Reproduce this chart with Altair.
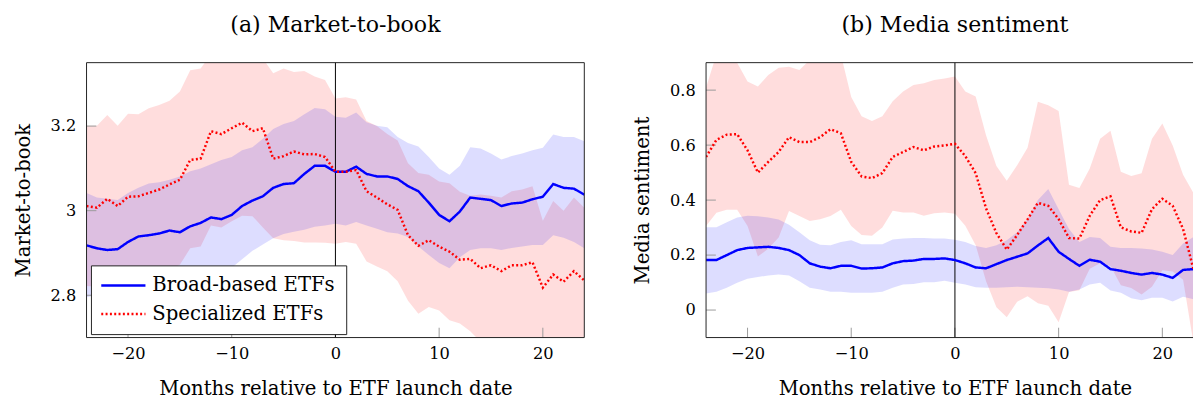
import altair as alt
import pandas as pd

months = list(range(-24, 25))

# Panel (a): Market-to-book
mtb_broad = [2.918, 2.911, 2.907, 2.909, 2.926, 2.939, 2.942, 2.946, 2.953, 2.949, 2.963, 2.971, 2.984,
             2.980, 2.990, 3.011, 3.024, 3.034, 3.054, 3.063, 3.065, 3.087, 3.106, 3.106, 3.092,
             3.092, 3.104, 3.087, 3.081, 3.081, 3.075, 3.058, 3.046, 3.019, 2.990, 2.975, 2.998,
             3.031, 3.028, 3.025, 3.011, 3.017, 3.019, 3.027, 3.033, 3.063, 3.054, 3.052, 3.038]
mtb_spec = [3.011, 3.007, 3.028, 3.011, 3.033, 3.034, 3.042, 3.050, 3.062, 3.073, 3.120, 3.123, 3.188,
            3.181, 3.195, 3.208, 3.188, 3.195, 3.123, 3.129, 3.140, 3.133, 3.134, 3.127, 3.092,
            3.092, 3.096, 3.046, 3.031, 3.015, 3.002, 2.942, 2.917, 2.930, 2.915, 2.903, 2.884,
            2.886, 2.864, 2.871, 2.857, 2.871, 2.871, 2.878, 2.818, 2.849, 2.832, 2.857, 2.835]
mtb_broad_hi = [3.042, 3.031, 3.028, 3.025, 3.042, 3.054, 3.064, 3.067, 3.073, 3.081, 3.093, 3.100, 3.110,
                3.120, 3.127, 3.143, 3.150, 3.170, 3.193, 3.205, 3.212, 3.228, 3.243, 3.240, 3.222,
                3.220, 3.232, 3.209, 3.201, 3.197, 3.174, 3.160, 3.152, 3.127, 3.100, 3.085, 3.106,
                3.150, 3.147, 3.135, 3.121, 3.129, 3.135, 3.143, 3.149, 3.180, 3.174, 3.174, 3.164]
mtb_broad_lo = [2.795, 2.800, 2.800, 2.800, 2.810, 2.815, 2.820, 2.820, 2.830, 2.835, 2.840, 2.850, 2.855,
                2.860, 2.865, 2.885, 2.905, 2.920, 2.935, 2.945, 2.950, 2.955, 2.962, 2.965, 2.969,
                2.965, 2.973, 2.965, 2.957, 2.949, 2.946, 2.938, 2.915, 2.895, 2.876, 2.864, 2.890,
                2.907, 2.911, 2.911, 2.907, 2.912, 2.915, 2.919, 2.919, 2.942, 2.936, 2.926, 2.911]
mtb_spec_hi = [3.201, 3.201, 3.226, 3.201, 3.229, 3.228, 3.242, 3.250, 3.260, 3.282, 3.332, 3.336, 3.370,
               3.380, 3.380, 3.380, 3.370, 3.360, 3.325, 3.336, 3.328, 3.330, 3.317, 3.309, 3.265,
               3.268, 3.263, 3.212, 3.200, 3.181, 3.166, 3.112, 3.089, 3.085, 3.069, 3.065, 3.045,
               3.035, 3.038, 3.035, 3.031, 3.046, 3.050, 3.058, 2.976, 3.023, 3.000, 3.031, 3.007]
mtb_spec_lo = [2.822, 2.820, 2.820, 2.825, 2.830, 2.835, 2.840, 2.850, 2.860, 2.872, 2.911, 2.915, 2.965,
               2.960, 2.975, 2.988, 2.987, 2.960, 2.935, 2.930, 2.928, 2.925, 2.925, 2.924, 2.922,
               2.926, 2.922, 2.880, 2.868, 2.857, 2.833, 2.787, 2.756, 2.772, 2.764, 2.741, 2.733,
               2.715, 2.690, 2.680, 2.680, 2.680, 2.680, 2.680, 2.680, 2.680, 2.680, 2.680, 2.680]

# Panel (b): Media sentiment
sen_broad = [0.182, 0.182, 0.200, 0.218, 0.226, 0.228, 0.230, 0.226, 0.218, 0.200, 0.170, 0.158, 0.152,
             0.161, 0.161, 0.151, 0.152, 0.155, 0.170, 0.178, 0.180, 0.186, 0.186, 0.188, 0.182,
             0.170, 0.155, 0.152, 0.167, 0.182, 0.194, 0.206, 0.235, 0.262, 0.212, 0.186, 0.161,
             0.183, 0.176, 0.149, 0.143, 0.135, 0.129, 0.135, 0.129, 0.117, 0.146, 0.149, 0.150]
sen_spec = [0.557, 0.619, 0.638, 0.640, 0.581, 0.500, 0.539, 0.575, 0.629, 0.611, 0.611, 0.629, 0.658,
            0.643, 0.539, 0.486, 0.480, 0.498, 0.557, 0.575, 0.593, 0.581, 0.595, 0.599, 0.605,
            0.560, 0.498, 0.370, 0.280, 0.220, 0.273, 0.330, 0.390, 0.379, 0.331, 0.262, 0.260,
            0.343, 0.400, 0.414, 0.301, 0.286, 0.281, 0.367, 0.405, 0.379, 0.295, 0.149, 0.100]
sen_broad_hi = [0.301, 0.301, 0.319, 0.337, 0.343, 0.341, 0.337, 0.329, 0.310, 0.283, 0.254, 0.238, 0.236,
                0.248, 0.254, 0.239, 0.239, 0.239, 0.257, 0.260, 0.262, 0.262, 0.260, 0.260, 0.256,
                0.248, 0.233, 0.226, 0.236, 0.254, 0.283, 0.331, 0.400, 0.440, 0.367, 0.295, 0.248,
                0.266, 0.262, 0.230, 0.226, 0.226, 0.224, 0.220, 0.212, 0.200, 0.242, 0.266, 0.270]
sen_broad_lo = [0.060, 0.067, 0.081, 0.099, 0.114, 0.120, 0.126, 0.129, 0.126, 0.105, 0.081, 0.075, 0.067,
                0.067, 0.063, 0.063, 0.063, 0.067, 0.081, 0.093, 0.095, 0.101, 0.101, 0.107, 0.099,
                0.093, 0.083, 0.081, 0.081, 0.083, 0.085, 0.083, 0.081, 0.079, 0.075, 0.067, 0.075,
                0.093, 0.099, 0.071, 0.063, 0.043, 0.036, 0.045, 0.045, 0.031, 0.048, 0.039, 0.040]
sen_spec_hi = [0.810, 0.930, 0.930, 0.900, 0.831, 0.813, 0.855, 0.881, 0.885, 0.873, 0.910, 0.950, 0.950,
               0.930, 0.775, 0.705, 0.688, 0.705, 0.760, 0.795, 0.819, 0.825, 0.837, 0.842, 0.850,
               0.795, 0.777, 0.636, 0.524, 0.470, 0.527, 0.590, 0.758, 0.745, 0.724, 0.456, 0.444,
               0.515, 0.623, 0.652, 0.503, 0.488, 0.498, 0.623, 0.679, 0.599, 0.492, 0.426, 0.400]
sen_spec_lo = [0.306, 0.354, 0.365, 0.365, 0.306, 0.195, 0.223, 0.264, 0.360, 0.342, 0.324, 0.330, 0.342,
               0.365, 0.306, 0.273, 0.270, 0.300, 0.361, 0.355, 0.355, 0.343, 0.352, 0.355, 0.350,
               0.307, 0.236, 0.105, 0.010, -0.026, 0.030, 0.050, 0.025, 0.016, -0.044, 0.066, 0.072,
               0.150, 0.170, 0.160, 0.090, 0.080, 0.057, 0.085, 0.145, 0.140, 0.110, -0.120, -0.150]

series_names = ["Broad-based ETFs", "Specialized ETFs"]
x_ticks = [-20, -10, 0, 10, 20]

FONT = "DejaVu Serif"
H = 280
FULL_W = 507
PX_PER_MONTH = FULL_W / 48


def panel(title, ytitle, broad, spec, b_lo, b_hi, s_lo, s_hi, ydomain, yticks, width, show_legend):
    xmax = -24 + width / PX_PER_MONTH
    bands = pd.DataFrame({"month": months, "b_lo": b_lo, "b_hi": b_hi, "s_lo": s_lo, "s_hi": s_hi})
    lines = pd.DataFrame({
        "month": months * 2,
        "value": list(broad) + list(spec),
        "series": [series_names[0]] * len(months) + [series_names[1]] * len(months),
    })
    xscale = alt.Scale(domain=[-24, xmax], nice=False, zero=False)
    yscale = alt.Scale(domain=ydomain, nice=False, zero=False)
    xaxis = alt.Axis(values=x_ticks, format="d", title="Months relative to ETF launch date",
                     ticks=False, domain=False, grid=False, labelPadding=8, titlePadding=18,
                     titleX=FULL_W / 2, titleAlign="center")
    yaxis = alt.Axis(values=yticks, format=".1~f", title=ytitle, ticks=False, domain=False,
                     grid=False, labelPadding=11, titlePadding=17)
    X = alt.X("month:Q", scale=xscale, axis=xaxis)

    red_band = alt.Chart(bands).mark_area(color="#ff0000", opacity=0.135, clip=True).encode(
        x=X, y=alt.Y("s_lo:Q", scale=yscale, axis=yaxis), y2="s_hi:Q")
    blue_band = alt.Chart(bands).mark_area(color="#0000ff", opacity=0.135, clip=True).encode(
        x=X, y=alt.Y("b_lo:Q", scale=yscale, axis=yaxis), y2="b_hi:Q")

    color = alt.Color("series:N", scale=alt.Scale(domain=series_names, range=["#0000ff", "#ff0000"]),
                      legend=None)
    dash = alt.StrokeDash("series:N", scale=alt.Scale(domain=series_names, range=[[1, 0], [2, 2.4]]),
                          legend=None)
    line = alt.Chart(lines).mark_line(strokeWidth=2.5, clip=True).encode(
        x=X, y=alt.Y("value:Q", scale=yscale, axis=yaxis), color=color, strokeDash=dash)

    zero = alt.Chart(pd.DataFrame({"m": [0]})).mark_rule(color="black", strokeWidth=1).encode(
        x=alt.X("m:Q", scale=xscale, axis=xaxis))
    xt = alt.Chart(pd.DataFrame({"t": x_ticks})).mark_rule(color="#9a9a9a", strokeWidth=1).encode(
        x=alt.X("t:Q", scale=xscale, axis=xaxis), y=alt.value(H), y2=alt.value(H - 10))
    yt = alt.Chart(pd.DataFrame({"t": yticks})).mark_rule(color="#9a9a9a", strokeWidth=1).encode(
        y=alt.Y("t:Q", scale=yscale, axis=yaxis), x=alt.value(0), x2=alt.value(10))

    one = pd.DataFrame({"a": [0]})
    border_parts = [
        alt.Chart(one).mark_rule(color="#222222", strokeWidth=1).encode(
            x=alt.value(0), x2=alt.value(width), y=alt.value(0)),
        alt.Chart(one).mark_rule(color="#222222", strokeWidth=1).encode(
            x=alt.value(0), x2=alt.value(width), y=alt.value(H)),
        alt.Chart(one).mark_rule(color="#222222", strokeWidth=1).encode(
            x=alt.value(0), y=alt.value(0), y2=alt.value(H)),
    ]
    legend_parts = []
    if show_legend:
        border_parts.append(alt.Chart(one).mark_rule(color="#222222", strokeWidth=1).encode(
            x=alt.value(width), y=alt.value(0), y2=alt.value(H)))
        legend_parts = [
            alt.Chart(one).mark_rect(fill="white", stroke="#222222", strokeWidth=1).encode(
                x=alt.value(5), x2=alt.value(265), y=alt.value(207), y2=alt.value(277)),
            alt.Chart(one).mark_rule(color="#0000ff", strokeWidth=2.5).encode(
                x=alt.value(15), x2=alt.value(60), y=alt.value(227)),
            alt.Chart(one).mark_rule(color="#ff0000", strokeWidth=2.5, strokeDash=[2, 2.4]).encode(
                x=alt.value(15), x2=alt.value(60), y=alt.value(256)),
            alt.Chart(one).mark_text(align="left", baseline="middle", font=FONT, fontSize=20,
                                     color="black").encode(
                x=alt.value(67), y=alt.value(227), text=alt.value(series_names[0])),
            alt.Chart(one).mark_text(align="left", baseline="middle", font=FONT, fontSize=20,
                                     color="black").encode(
                x=alt.value(67), y=alt.value(256), text=alt.value(series_names[1])),
        ]

    layers = [red_band, blue_band, xt, yt, zero, line] + border_parts + legend_parts
    return alt.layer(*layers).properties(
        width=width, height=H,
        title=alt.TitleParams(title, font=FONT, fontSize=22.5, fontWeight="normal", color="black",
                              offset=26, anchor="middle", dx=(FULL_W - width) / 2),
    )


left = panel("(a) Market-to-book", "Market-to-book", mtb_broad, mtb_spec,
             mtb_broad_lo, mtb_broad_hi, mtb_spec_lo, mtb_spec_hi,
             [2.70, 3.35], [2.8, 3.0, 3.2], FULL_W, True)
right = panel("(b) Media sentiment", "Media sentiment", sen_broad, sen_spec,
              sen_broad_lo, sen_broad_hi, sen_spec_lo, sen_spec_hi,
              [-0.1, 0.9], [0.0, 0.2, 0.4, 0.6, 0.8], 496, False)

chart = alt.hconcat(left, right, spacing=48).resolve_scale(
    color="independent", strokeDash="independent"
).configure_view(stroke=None).configure_axis(
    labelFont=FONT, labelFontSize=16.5, labelColor="black",
    titleFont=FONT, titleFontSize=20, titleFontWeight="normal", titleColor="black",
).properties(padding={"left": 5, "top": 3, "right": 0, "bottom": 0})

chart.save("out.html", embed_options={"renderer": "svg", "actions": False})
